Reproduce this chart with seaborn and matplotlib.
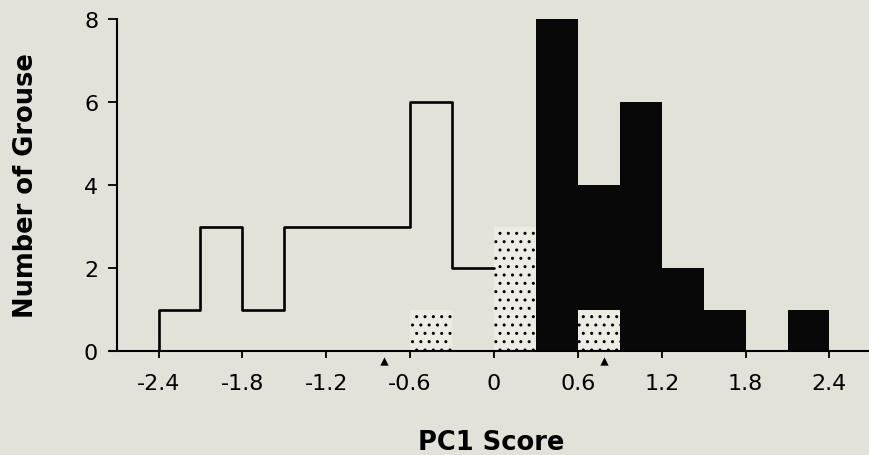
import numpy as np
import seaborn as sns
import matplotlib.pyplot as plt

# histogram bins of PC1 score (width 0.3)
bin_edges = [-2.4, -2.1, -1.8, -1.5, -1.2, -0.9, -0.6, -0.3, 0.0,
             0.3, 0.6, 0.9, 1.2, 1.5, 1.8, 2.1, 2.4]
# open (outlined) group, bins from -2.4 up to 0
open_counts = [1, 3, 1, 3, 3, 3, 6, 2]
# stippled group, one value per bin
dotted_counts = [0, 0, 0, 0, 0, 0, 1, 0, 3, 0, 1, 0, 0, 0, 0, 0]
# black group, one value per bin
black_counts = [0, 0, 0, 0, 0, 0, 0, 0, 0, 8, 4, 6, 2, 1, 0, 1]
# group means marked under the axis
mean_scores = [-0.79, 0.79]

x_ticks = [-2.4, -1.8, -1.2, -0.6, 0, 0.6, 1.2, 1.8, 2.4]
x_tick_labels = ["-2.4", "-1.8", "-1.2", "-0.6", "0", "0.6", "1.2", "1.8", "2.4"]
y_ticks = [0, 2, 4, 6, 8]

bg = "#e3e2d9"
sns.set_style("ticks")
plt.rcParams["font.family"] = ["DejaVu Sans"]
plt.rcParams["hatch.linewidth"] = 1.0
plt.rcParams["text.color"] = "black"
plt.rcParams["axes.labelcolor"] = "black"

edges = np.array(bin_edges)
centers = (edges[:-1] + edges[1:]) / 2

fig = plt.figure(figsize=(8.7, 4.56), dpi=100, facecolor=bg)
ax = fig.add_axes([110 / 870, 104 / 456, 760 / 870, 332 / 456])
ax.set_facecolor(bg)

# black bars
sns.histplot(x=centers, weights=black_counts, bins=bin_edges, ax=ax,
             facecolor="#080808", edgecolor="#080808", linewidth=0, alpha=1)
# stippled bars
sns.histplot(x=centers, weights=dotted_counts, bins=bin_edges, ax=ax,
             facecolor="#ecebe4", edgecolor="black", linewidth=0,
             hatch="..", alpha=1)

# open group as a step outline
step_x = [bin_edges[0]] + bin_edges[:len(open_counts) + 1]
step_y = [0] + open_counts + [open_counts[-1]]
sns.lineplot(x=step_x, y=step_y, estimator=None, sort=False, ax=ax,
             drawstyle="steps-post", color="black", linewidth=1.9)

# means
sns.scatterplot(x=mean_scores, y=[-0.23] * len(mean_scores), marker="^",
                s=36, color="black", linewidth=0, clip_on=False, ax=ax)

ax.set_xlim(-2.747, 2.69)
ax.set_ylim(0, 8)
ax.set_xticks(x_ticks)
ax.set_xticklabels(x_tick_labels)
ax.set_yticks(y_ticks)

ax.spines["top"].set_visible(False)
ax.spines["right"].set_visible(False)
ax.spines["left"].set_position(("data", -2.697))
ax.spines["left"].set_bounds(0, 8)
for s in ["left", "bottom"]:
    ax.spines[s].set_linewidth(1.5)
    ax.spines[s].set_color("black")
ax.tick_params(axis="x", length=5, width=1.3, pad=11, labelsize=16, colors="black")
ax.tick_params(axis="y", length=6.5, width=1.3, pad=7, labelsize=16, colors="black")

ax.set_xlabel("PC1 Score", fontsize=18.5, fontweight="bold", color="black")
ax.xaxis.set_label_coords(0.502, -0.295)
ax.xaxis.label.set_va("baseline")
ax.set_ylabel("Number of Grouse", fontsize=18.5, fontweight="bold", color="black")
ax.yaxis.set_label_coords(-0.110, 0.5)
ax.yaxis.label.set_va("center")

fig.savefig("out.png", dpi=100, facecolor=bg)
